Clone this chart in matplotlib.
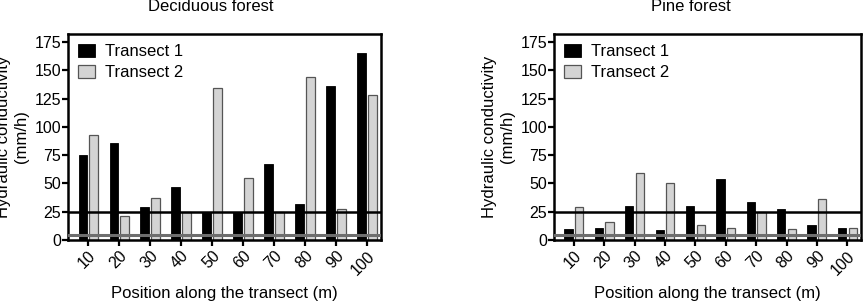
#!/usr/bin/env python3
"""Hydraulic conductivity along two transects, deciduous vs pine forest."""

import matplotlib as mpl
import matplotlib.pyplot as plt
import numpy as np

mpl.rcParams.update(
    {
        "font.family": ["Liberation Sans", "DejaVu Sans"],
        "font.size": 11.5,
        "axes.linewidth": 1.8,
        "xtick.major.width": 1.6,
        "ytick.major.width": 1.6,
        "xtick.major.size": 4,
        "ytick.major.size": 4,
    }
)

positions = ["10", "20", "30", "40", "50", "60", "70", "80", "90", "100"]

decid_t1 = [75, 86, 29, 47, 25, 25, 67, 32, 136, 165]
decid_t2 = [93, 21, 37, 25, 134, 55, 25, 144, 27, 128]

pine_t1 = [10, 11, 30, 9, 30, 54, 34, 27, 13, 11]
pine_t2 = [29, 16, 59, 50, 13, 11, 25, 10, 36, 11]

upper_ref = 25
lower_ref = 4

yticks = [0, 25, 50, 75, 100, 125, 150, 175]

fig = plt.figure(figsize=(8.66, 3.08), dpi=100)

panels = [
    ("Deciduous forest", decid_t1, decid_t2, [0.0785, 0.2208, 0.3614, 0.6688], 0.243),
    ("Pine forest", pine_t1, pine_t2, [0.6397, 0.2208, 0.3545, 0.6688], 0.798),
]

x = np.arange(len(positions))
w = 0.27
off = 0.175

for title, t1, t2, rect, title_x in panels:
    ax = fig.add_axes(rect)
    ax.bar(x - off, t1, width=w, color="black", edgecolor="black", linewidth=0.6,
           label="Transect 1", zorder=2)
    ax.bar(x + off, t2, width=w, color="#d4d4d4", edgecolor="#555555", linewidth=0.9,
           label="Transect 2", zorder=2)
    ax.axhline(upper_ref, color="black", linewidth=1.8, zorder=3)
    ax.axhline(lower_ref, color="#6e6e6e", linewidth=2.2, zorder=3)

    ax.set_xlim(-0.65, 9.45)
    ax.set_ylim(0, 182)
    ax.set_yticks(yticks)
    ax.set_xticks(x)
    ax.set_xticklabels(positions, rotation=45, ha="right", rotation_mode="anchor")
    ax.tick_params(axis="x", pad=2)
    ax.tick_params(axis="y", pad=1)
    ax.set_xlabel("Position along the transect (m)", fontsize=12, labelpad=6)
    ax.set_ylabel("Hydraulic conductivity\n(mm/h)", fontsize=12, labelpad=4,
                  linespacing=1.2)

    ax.legend(loc="upper left", frameon=False, handlelength=1.05, handleheight=0.8,
              handletextpad=0.6, labelspacing=0.35, borderpad=0.3,
              borderaxespad=0.3, fontsize=12)

    fig.text(title_x, 0.98, title, ha="center", va="center", fontsize=12)

fig.savefig("out.png", dpi=100, facecolor="white")
